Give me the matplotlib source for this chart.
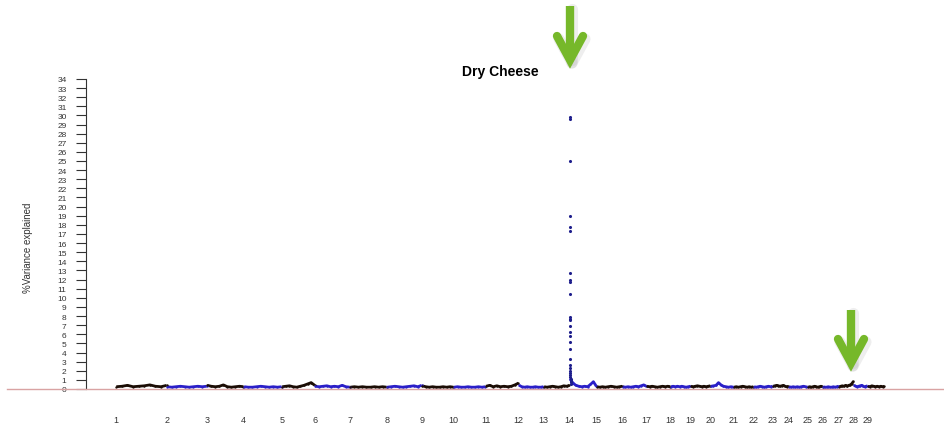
import matplotlib
matplotlib.use("Agg")
import matplotlib.pyplot as plt
from matplotlib.lines import Line2D
import numpy as np

plt.rcParams['font.family'] = ['Liberation Sans', 'DejaVu Sans']

# chromosome lengths (Mb, approx.)
chrom_names = [str(i) for i in range(1, 30)]
chrom_len = [163, 128, 118, 122, 106, 112, 118, 112, 102, 102, 106, 80, 83, 86,
             83, 77, 77, 64, 64, 74, 64, 61, 51, 61, 48, 51, 48, 45, 54]

# %variance explained along each chromosome
baseline = [
    [0.15, 0.2, 0.3, 0.15, 0.2, 0.25, 0.35, 0.2, 0.15, 0.3],
    [0.15, 0.1, 0.15, 0.2, 0.15, 0.1, 0.15, 0.2, 0.15, 0.2],
    [0.3, 0.2, 0.15, 0.2, 0.35, 0.15, 0.1, 0.15, 0.2, 0.15],
    [0.15, 0.1, 0.1, 0.15, 0.2, 0.15, 0.1, 0.15, 0.1, 0.15],
    [0.15, 0.2, 0.25, 0.15, 0.1, 0.2, 0.3, 0.45, 0.6, 0.3],
    [0.2, 0.15, 0.2, 0.25, 0.15, 0.2, 0.15, 0.3, 0.15, 0.1],
    [0.1, 0.15, 0.1, 0.15, 0.1, 0.1, 0.15, 0.1, 0.15, 0.1],
    [0.1, 0.15, 0.2, 0.15, 0.1, 0.15, 0.2, 0.25, 0.15, 0.3],
    [0.25, 0.15, 0.1, 0.15, 0.1, 0.1, 0.15, 0.1, 0.15, 0.1],
    [0.1, 0.15, 0.1, 0.1, 0.15, 0.1, 0.1, 0.15, 0.1, 0.15],
    [0.2, 0.3, 0.15, 0.25, 0.15, 0.2, 0.15, 0.2, 0.35, 0.55],
    [0.3, 0.15, 0.1, 0.15, 0.1, 0.1, 0.15, 0.1, 0.1, 0.15],
    [0.15, 0.1, 0.15, 0.2, 0.15, 0.1, 0.15, 0.25, 0.2, 0.3],
    [1.0, 0.55, 0.3, 0.2, 0.15, 0.2, 0.15, 0.4, 0.7, 0.2],
    [0.15, 0.1, 0.15, 0.1, 0.15, 0.2, 0.15, 0.1, 0.15, 0.2],
    [0.15, 0.1, 0.15, 0.1, 0.15, 0.2, 0.15, 0.25, 0.35, 0.2],
    [0.2, 0.15, 0.2, 0.15, 0.1, 0.15, 0.2, 0.15, 0.2, 0.15],
    [0.15, 0.2, 0.15, 0.2, 0.15, 0.2, 0.15, 0.1, 0.15, 0.2],
    [0.2, 0.15, 0.2, 0.25, 0.2, 0.15, 0.2, 0.15, 0.2, 0.25],
    [0.2, 0.25, 0.3, 0.6, 0.35, 0.2, 0.15, 0.1, 0.15, 0.1],
    [0.1, 0.15, 0.1, 0.15, 0.2, 0.15, 0.1, 0.15, 0.1, 0.15],
    [0.15, 0.1, 0.15, 0.2, 0.15, 0.1, 0.15, 0.2, 0.15, 0.2],
    [0.2, 0.25, 0.3, 0.25, 0.2, 0.25, 0.3, 0.2, 0.15, 0.2],
    [0.15, 0.1, 0.15, 0.1, 0.15, 0.1, 0.15, 0.2, 0.15, 0.1],
    [0.1, 0.15, 0.1, 0.15, 0.2, 0.15, 0.1, 0.15, 0.2, 0.15],
    [0.15, 0.1, 0.1, 0.15, 0.1, 0.1, 0.15, 0.1, 0.15, 0.2],
    [0.15, 0.2, 0.25, 0.2, 0.3, 0.2, 0.3, 0.35, 0.5, 0.75],
    [0.3, 0.2, 0.15, 0.2, 0.25, 0.3, 0.2, 0.15, 0.2, 0.25],
    [0.2, 0.15, 0.25, 0.2, 0.15, 0.2, 0.15, 0.2, 0.15, 0.2],
]

# DGAT1 region at the start of chromosome 14
peak_pos = [2.0, 2.2, 2.1, 2.3, 2.0, 2.2, 2.1, 2.3, 2.0, 2.2, 2.1, 2.3, 2.0, 2.2,
            2.1, 2.3, 2.0, 2.2, 2.1, 2.3, 2.0, 2.2, 2.1, 2.3, 2.0, 2.5, 3.0, 3.5, 4.0]
peak_val = [29.8, 29.6, 25.0, 19.0, 17.8, 17.3, 12.7, 11.9, 11.7, 10.4, 7.9, 7.7,
            7.6, 6.9, 6.3, 5.8, 5.1, 4.4, 3.3, 2.6, 2.3, 2.0, 1.8, 1.5, 1.3, 1.1,
            0.9, 0.8, 0.6]

colors = ['#1a0c04', '#2a1fc8']
dot_blue = '#1e1e8c'
green = '#76b82a'

W, H = 945, 431
fig = plt.figure(figsize=(W / 100, H / 100), dpi=100)

ymin, ymax = -1.5, 35
px_per_unit = 9.12
ax_bottom_px = 390 + (-ymin) * px_per_unit
ax_h_px = (ymax - ymin) * px_per_unit
ax = fig.add_axes([86 / W, (H - ax_bottom_px) / H, (W - 86) / W, ax_h_px / H])

scale = 3.2  # units per pixel
starts = np.concatenate([[0], np.cumsum(chrom_len)[:-1]])
ax.set_xlim(-30 * scale, (W - 86 - 30) * scale)
ax.set_ylim(ymin, ymax)

for i, vals in enumerate(baseline):
    xs = np.linspace(starts[i] + 1, starts[i] + chrom_len[i] - 1, len(vals))
    c = colors[i % 2]
    ax.plot(xs, np.array(vals) + 0.1, color=c, lw=2.0, solid_capstyle='butt', zorder=3)
    ax.scatter(xs, np.array(vals) + 0.1, s=3, color=c, zorder=4, linewidths=0)

peak_x = starts[13] + np.array(peak_pos)
ax.scatter(peak_x, peak_val, s=5, color=dot_blue, zorder=5, linewidths=0)

# pink reference line across the figure
yline = (H - 389.5) / H
fig.add_artist(Line2D([7 / W, 1], [yline, yline], color='#d9a3a3', lw=1.0, zorder=1))

for s in ['top', 'right', 'bottom']:
    ax.spines[s].set_visible(False)
ax.spines['left'].set_bounds(0, 34)
ax.spines['left'].set_linewidth(0.8)
ax.spines['left'].set_color('#333333')
ax.set_yticks(range(0, 35))
ax.tick_params(axis='y', direction='out', length=7, width=0.8, color='#333333',
               pad=7, labelsize=6, labelcolor='#333333')
ax.set_xticks(starts)
ax.set_xticklabels(chrom_names)
ax.tick_params(axis='x', length=0, pad=9, labelsize=6.5, labelcolor='#333333')

ax.set_ylabel('%Variance explained', fontsize=7, color='#333333')
ax.yaxis.set_label_coords(-(86 - 33) / (W - 86), (ax_bottom_px - 248) / ax_h_px)

fig.text(500 / W, (H - 72) / H, 'Dry Cheese', fontsize=10, fontweight='bold',
         ha='center', va='center')


def green_arrow(x, y0, y1):
    # soft shadow
    pts = [([x, x], [y0, y1 - 3]), ([x - 13, x], [y1 - 24, y1]), ([x + 13, x], [y1 - 24, y1])]
    for px, py in pts:
        fig.add_artist(Line2D([(p + 2) / W for p in px], [(H - q - 3) / H for q in py],
                              color='#aaaaaa', alpha=0.2, lw=8, solid_capstyle='round'))
    fig.add_artist(Line2D([x / W, x / W], [(H - y0) / H, (H - y1 + 4) / H],
                          color=green, lw=6, solid_capstyle='butt'))
    fig.add_artist(Line2D([(x - 13) / W, x / W, (x + 13) / W],
                          [(H - y1 + 24) / H, (H - y1) / H, (H - y1 + 24) / H],
                          color=green, lw=6, solid_capstyle='round', solid_joinstyle='miter'))


green_arrow(570, 7, 61)
green_arrow(851, 311, 364)

fig.savefig('out.png', dpi=100)
